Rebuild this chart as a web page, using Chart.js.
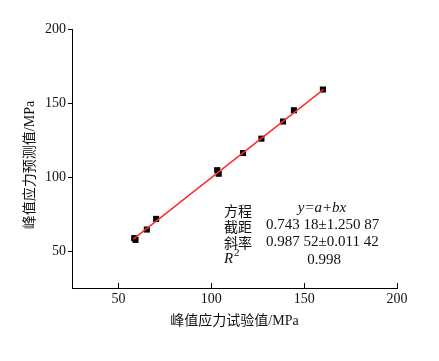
<!DOCTYPE html>
<html>
<head>
<meta charset="utf-8">
<script src="https://cdn.jsdelivr.net/npm/chart.js@4"></script>
<style>
  html, body { margin: 0; padding: 0; background: #fff; }
  #wrap { width: 439px; height: 361px; }
</style>
</head>
<body>
<div id="wrap"><canvas id="chart"></canvas></div>
<script>
// measured (x) vs predicted (y) peak stress, MPa
const testValues = [58.5, 59.2, 65.3, 70.3, 103.2, 104.0, 117.1, 127.0, 138.6, 144.5, 160.1];
const predValues = [58.7, 57.5, 64.5, 71.7, 104.6, 102.2, 116.2, 125.9, 137.5, 145.1, 159.1];

// fitted line end points
const fitX = [58.0, 160.5];
const fitY = [58.0, 159.2];

const xTicks = [50, 100, 150, 200];
const yTicks = [50, 100, 150, 200];

const yTitle = "峰值应力预测值/MPa";
const fitLabel = ["方程", "截距", "斜率"];
const fitText = ["y=a+bx", "0.743 18\u00b11.250 87", "0.987 52\u00b10.011 42", "0.998"];

const serif = "'Liberation Serif', 'Noto Sans CJK SC', serif";

// inward ticks on the x axis, y title, fit annotation
const extras = {
  id: "extras",
  afterDraw(chart) {
    const ctx = chart.ctx;
    const x = chart.scales.x;
    const y = chart.scales.y;
    ctx.save();
    ctx.strokeStyle = "#000";
    ctx.lineWidth = 1;
    xTicks.forEach((v) => {
      const px = Math.round(x.getPixelForValue(v)) + 0.5;
      ctx.beginPath();
      ctx.moveTo(px, y.bottom);
      ctx.lineTo(px, y.bottom - 5);
      ctx.stroke();
    });

    ctx.fillStyle = "#111";
    ctx.textBaseline = "middle";

    // y axis title
    ctx.save();
    ctx.translate(30, 165);
    ctx.rotate(-Math.PI / 2);
    ctx.textAlign = "center";
    ctx.font = "14px " + serif;
    ctx.fillText(yTitle, 0, 0);
    ctx.restore();

    ctx.textAlign = "left";
    ctx.font = "14px 'Noto Sans CJK SC', serif";
    ctx.fillText(fitLabel[0], 224, 211);
    ctx.fillText(fitLabel[1], 224, 227);
    ctx.fillText(fitLabel[2], 224, 243);

    ctx.font = "italic 15px " + serif;
    ctx.fillText("R", 224, 259);
    ctx.font = "11px " + serif;
    ctx.fillText("2", 234, 253);

    ctx.textAlign = "center";
    ctx.font = "italic 15px " + serif;
    ctx.fillText(fitText[0], 322, 208);
    ctx.textAlign = "left";
    ctx.font = "15px " + serif;
    ctx.fillText(fitText[1], 266, 225);
    ctx.fillText(fitText[2], 266, 242);
    ctx.textAlign = "center";
    ctx.fillText(fitText[3], 324, 260);
    ctx.restore();
  },
};

new Chart(document.getElementById("chart"), {
  type: "scatter",
  data: {
    datasets: [
      {
        type: "line",
        label: "fit",
        data: fitX.map((v, i) => ({ x: v, y: fitY[i] })),
        borderColor: "#ff2a2a",
        borderWidth: 1.5,
        pointRadius: 0,
        fill: false,
      },
      {
        label: "data",
        data: testValues.map((v, i) => ({ x: v, y: predValues[i] })),
        pointStyle: "rect",
        pointRadius: 4.3,
        backgroundColor: "#000",
        borderColor: "#000",
        borderWidth: 0,
      },
    ],
  },
  options: {
    responsive: true,
    maintainAspectRatio: false,
    animation: false,
    layout: { padding: { top: 29, right: 42, left: 0, bottom: 0 } },
    plugins: {
      legend: { display: false },
      tooltip: { enabled: false },
    },
    scales: {
      x: {
        type: "linear",
        min: 25,
        max: 200,
        afterBuildTicks: (s) => { s.ticks = xTicks.map((v) => ({ value: v })); },
        afterFit: (s) => { s.height = 73; },
        grid: { display: false, drawTicks: false },
        border: { display: true, color: "#000", width: 1 },
        ticks: {
          padding: 3,
          color: "#111",
          font: { family: serif, size: 14 },
          maxRotation: 0,
        },
        title: {
          display: true,
          text: "峰值应力试验值/MPa",
          color: "#111",
          font: { family: serif, size: 14 },
          padding: { top: 0, bottom: 31 },
        },
      },
      y: {
        type: "linear",
        min: 25,
        max: 200,
        afterBuildTicks: (s) => { s.ticks = yTicks.map((v) => ({ value: v })); },
        afterFit: (s) => { s.width = 72; },
        grid: {
          display: true,
          drawOnChartArea: false,
          drawTicks: true,
          tickLength: 4,
          color: "#000",
        },
        border: { display: true, color: "#000", width: 1 },
        ticks: {
          padding: 2,
          color: "#111",
          font: { family: serif, size: 14 },
        },
      },
    },
  },
  plugins: [extras],
});
</script>
</body>
</html>
